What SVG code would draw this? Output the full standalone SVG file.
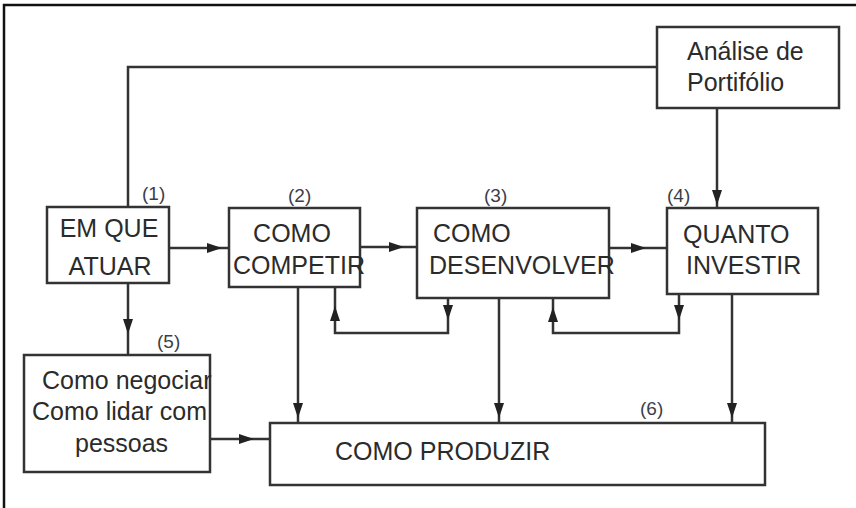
<svg xmlns="http://www.w3.org/2000/svg" xmlns:xlink="http://www.w3.org/1999/xlink" width="856" height="508" viewBox="0 0 856 508">
<style>
  .box { fill: #ffffff; stroke: #333333; stroke-width: 2.5; }
  .t { font-family: "Liberation Sans", Arial, sans-serif; font-size: 25px; fill: #2b2b2b; }
  .lbl { font-family: "Liberation Sans", Arial, sans-serif; font-size: 19px; fill: #3a3f4a; }
  .c { fill: none; stroke: #333333; stroke-width: 2.5; }
  .ah { fill: #222222; }
</style>
<defs>
  <path id="ah" d="M0,0 L-5,-15 L5,-15 Z"/>
</defs>
<rect x="0" y="0" width="856" height="508" fill="#ffffff"/>
<path d="M4,508 V5 H856" fill="none" stroke="#111111" stroke-width="2.5"/>

<g id="connectors">
  <path class="c" d="M657,67 H128 V207"/>
  <path class="c" d="M717,108 V207"/>
  <path class="c" d="M169,248 H229"/>
  <path class="c" d="M360,247 H417"/>
  <path class="c" d="M609,248 H667"/>
  <path class="c" d="M128,283 V355"/>
  <path class="c" d="M210,439 H270"/>
  <path class="c" d="M298,287 V423"/>
  <path class="c" d="M499,298 V423"/>
  <path class="c" d="M732,294 V423"/>
  <path class="c" d="M448,298 V333 H335 V287"/>
  <path class="c" d="M679,294 V333 H553 V298"/>
  <g class="ah">
    <use xlink:href="#ah" transform="translate(717,205)"/>
    <use xlink:href="#ah" transform="translate(222,248) rotate(-90)"/>
    <use xlink:href="#ah" transform="translate(404,247) rotate(-90)"/>
    <use xlink:href="#ah" transform="translate(646,248) rotate(-90)"/>
    <use xlink:href="#ah" transform="translate(128,334)"/>
    <use xlink:href="#ah" transform="translate(254,439) rotate(-90)"/>
    <use xlink:href="#ah" transform="translate(298,418)"/>
    <use xlink:href="#ah" transform="translate(499,418)"/>
    <use xlink:href="#ah" transform="translate(732,418)"/>
    <use xlink:href="#ah" transform="translate(448,320)"/>
    <use xlink:href="#ah" transform="translate(335,306) rotate(180)"/>
    <use xlink:href="#ah" transform="translate(679,320)"/>
    <use xlink:href="#ah" transform="translate(553,307) rotate(180)"/>
  </g>
</g>

<g id="analise">
  <rect class="box" x="657" y="27" width="182" height="81"/>
  <text class="t" x="687" y="60">Análise de</text>
  <text class="t" x="687" y="91">Portifólio</text>
</g>

<g id="em-que-atuar">
  <rect class="box" x="47" y="207" width="122" height="76"/>
  <text class="t" x="109" y="237" text-anchor="middle">EM QUE</text>
  <text class="t" x="110" y="275" text-anchor="middle">ATUAR</text>
  <text class="lbl" x="142" y="200">(1)</text>
</g>

<g id="como-competir">
  <rect class="box" x="229" y="208" width="131" height="79"/>
  <text class="t" x="292" y="242" text-anchor="middle">COMO</text>
  <text class="t" x="233" y="274">COMPETIR</text>
  <text class="lbl" x="288" y="202">(2)</text>
</g>

<g id="como-desenvolver">
  <rect class="box" x="417" y="208" width="192" height="90"/>
  <text class="t" x="433" y="242">COMO</text>
  <text class="t" x="429" y="274">DESENVOLVER</text>
  <text class="lbl" x="484" y="202">(3)</text>
</g>

<g id="quanto-investir">
  <rect class="box" x="667" y="208" width="151" height="86"/>
  <text class="t" x="683" y="243">QUANTO</text>
  <text class="t" x="686" y="274">INVESTIR</text>
  <text class="lbl" x="667" y="202">(4)</text>
</g>

<g id="como-negociar">
  <rect class="box" x="24" y="355" width="186" height="117"/>
  <text class="t" x="42" y="389">Como negociar</text>
  <text class="t" x="32" y="420">Como lidar com</text>
  <text class="t" x="75" y="452">pessoas</text>
  <text class="lbl" x="157" y="348">(5)</text>
</g>

<g id="como-produzir">
  <rect class="box" x="270" y="423" width="495" height="62"/>
  <text class="t" x="335" y="460">COMO PRODUZIR</text>
  <text class="lbl" x="640" y="415">(6)</text>
</g>
</svg>
